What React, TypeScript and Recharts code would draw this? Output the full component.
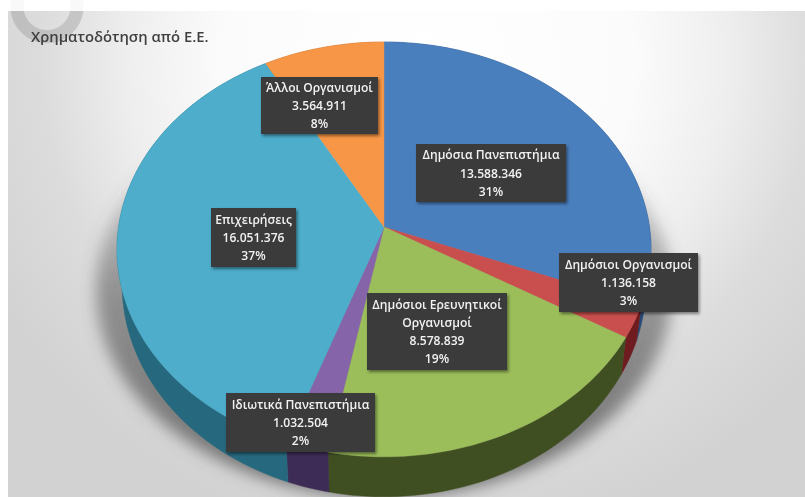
import React from "react";
import { PieChart, Pie } from "recharts";

const W = 805;
const H = 497;

const categories = [
  "Δημόσια Πανεπιστήμια",
  "Δημόσιοι Οργανισμοί",
  "Δημόσιοι Ερευνητικοί Οργανισμοί",
  "Ιδιωτικά Πανεπιστήμια",
  "Επιχειρήσεις",
  "Άλλοι Οργανισμοί",
];
const values = [13588346, 1136158, 8578839, 1032504, 16051376, 3564911];
const percentLabels = ["31%", "3%", "19%", "2%", "37%", "8%"];
const labelLines = [
  ["Δημόσια Πανεπιστήμια"],
  ["Δημόσιοι Οργανισμοί"],
  ["Δημόσιοι Ερευνητικοί", "Οργανισμοί"],
  ["Ιδιωτικά Πανεπιστήμια"],
  ["Επιχειρήσεις"],
  ["Άλλοι Οργανισμοί"],
];
const topColors = ["#4a7fbe", "#c94f4e", "#9bbd5a", "#8664aa", "#4dadcb", "#f79646"];
const sideColors = ["#274a78", "#6e1c20", "#404f21", "#3d2c55", "#26697f", "#a85f20"];

// label box placement: left, top, right, bottom
const labelBoxes = [
  [416, 144, 566, 202],
  [559, 253, 698, 312],
  [367, 293, 507, 370],
  [226, 393, 375, 452],
  [211, 208, 296, 267],
  [261, 77, 378, 134],
];

const data = categories.map((name, i) => ({ name, value: values[i] }));

// perspective projection of the pie disc
const K = 0.108;
const ASPECT = 1.295;
const ELLIPSE_OFFSET = 23;
const DEPTH_SHIFT = 35;
const DEPTH_X = 0.981;
const DEPTH_Y = 1.024;

const project = (deg: number, r: number) => {
  const a = ((90 - deg) * Math.PI) / 180;
  const u = Math.sin(a);
  const v = Math.cos(a);
  const d = 1 + K * v;
  return { x: (r * ASPECT * u) / d, y: (-r * v) / d };
};

const rim = (start: number, end: number, cx: number, cy: number, r: number) => {
  const n = Math.max(2, Math.ceil(Math.abs(end - start) / 1.5));
  const pts: number[][] = [];
  for (let i = 0; i <= n; i++) {
    const p = project(start + ((end - start) * i) / n, r);
    pts.push([cx + p.x, cy + p.y]);
  }
  return pts;
};

const TopShape = (props: any) => {
  const { cx, cy, outerRadius, startAngle, endAngle, index } = props;
  const pts = rim(startAngle, endAngle, cx, cy, outerRadius);
  const d =
    `M${cx},${cy} ` + pts.map((p) => `L${p[0].toFixed(2)},${p[1].toFixed(2)}`).join(" ") + " Z";
  return <path d={d} fill={topColors[index]} stroke={topColors[index]} strokeWidth={0.4} />;
};

const SideShape = (props: any) => {
  const { cx, cy, outerRadius, startAngle, endAngle, index } = props;
  const pts = rim(startAngle, endAngle, cx, cy, outerRadius);
  const centre = cy + ELLIPSE_OFFSET;
  const lower = pts
    .map((p) => [cx + (p[0] - cx) * DEPTH_X, centre + DEPTH_SHIFT + (p[1] - centre) * DEPTH_Y])
    .reverse();
  const d =
    "M" + [...pts, ...lower].map((p) => `${p[0].toFixed(2)},${p[1].toFixed(2)}`).join(" L") + " Z";
  return <path d={d} fill={sideColors[index]} stroke={sideColors[index]} strokeWidth={0.4} />;
};

const fmt = (n: number) => String(n).replace(/\B(?=(\d{3})+(?!\d))/g, ".");

const renderLabel = (props: any) => {
  const { index, value } = props;
  const [l, t, r, b] = labelBoxes[index];
  const lines = [...labelLines[index], fmt(value), percentLabels[index]];
  const mid = (l + r) / 2;
  const lh = 18.2;
  const first = (t + b) / 2 - ((lines.length - 1) * lh) / 2 + 4.5;
  return (
    <g key={index}>
      <rect x={l} y={t} width={r - l} height={b - t} fill="#3a3a3a" filter="url(#boxShadow)" />
      {lines.map((s, i) => (
        <text
          key={i}
          x={mid}
          y={first + i * lh}
          textAnchor="middle"
          fontFamily="'Open Sans', 'Noto Sans', sans-serif"
          fontSize={12.1}
          fontWeight={600}
          fill="#f2f2f2"
        >
          {s}
        </text>
      ))}
    </g>
  );
};

export default function App() {
  return (
    <div
      style={{
        position: "absolute",
        left: 0,
        top: 0,
        width: W,
        height: H,
        overflow: "hidden",
        background: "#ffffff",
        filter: "blur(0.45px)",
      }}
    >
      <div
        style={{
          position: "absolute",
          left: 8,
          top: 11,
          width: W - 8,
          height: H - 11,
          background:
            "radial-gradient(ellipse 430px 420px at 420px 49px, #ffffff 0%, #fbfbfb 48%, #eeeeee 70%, #dcdcdc 90%, #d2d2d2 115%)",
        }}
      />
      <svg width={W} height={H} style={{ position: "absolute", left: 0, top: 0 }}>
        <defs>
          <linearGradient id="shadowFade" x1="0" y1="0" x2="0" y2="1">
            <stop offset="0.1" stopColor="#555" stopOpacity="0" />
            <stop offset="0.5" stopColor="#555" stopOpacity="0.55" />
            <stop offset="1" stopColor="#555" stopOpacity="0.8" />
          </linearGradient>
          <filter id="softShadow" x="-20%" y="-20%" width="140%" height="140%">
            <feGaussianBlur stdDeviation="8" />
          </filter>
          <clipPath id="panelClip">
            <rect x={8} y={11} width={W - 8} height={H - 11} />
          </clipPath>
        </defs>
        <ellipse cx={384} cy={290} rx={288} ry={207} fill="url(#shadowFade)" filter="url(#softShadow)" />
        <circle cx={47} cy={6.6} r={30} fill="none" stroke="#808080" strokeOpacity={0.05} strokeWidth={13} />
        <g clipPath="url(#panelClip)">
          <circle cx={47} cy={6.6} r={30} fill="none" stroke="#808080" strokeOpacity={0.25} strokeWidth={13} />
        </g>
      </svg>
      <div
        style={{
          position: "absolute",
          left: 31,
          top: 26,
          fontFamily: "'Open Sans', 'Noto Sans', sans-serif",
          fontSize: 14.8,
          fontWeight: 600,
          color: "#404040",
          whiteSpace: "nowrap",
        }}
      >
        Χρηματοδότηση από Ε.Ε.
      </div>
      <div style={{ position: "absolute", left: 0, top: 0 }}>
        <PieChart width={W} height={H} margin={{ top: 0, right: 0, bottom: 0, left: 0 }}>
          <defs>
            <filter id="boxShadow" x="-10%" y="-10%" width="125%" height="130%">
              <feDropShadow dx="1.5" dy="2" stdDeviation="1.5" floodColor="#000" floodOpacity="0.45" />
            </filter>
          </defs>
          <Pie
            data={data}
            dataKey="value"
            nameKey="name"
            cx={384}
            cy={227}
            outerRadius={205}
            startAngle={90}
            endAngle={-270}
            stroke="none"
            shape={SideShape}
            isAnimationActive={false}
          />
          <Pie
            data={data}
            dataKey="value"
            nameKey="name"
            cx={384}
            cy={227}
            outerRadius={205}
            startAngle={90}
            endAngle={-270}
            stroke="none"
            shape={TopShape}
            label={renderLabel}
            labelLine={false}
            isAnimationActive={false}
          />
        </PieChart>
      </div>
    </div>
  );
}
